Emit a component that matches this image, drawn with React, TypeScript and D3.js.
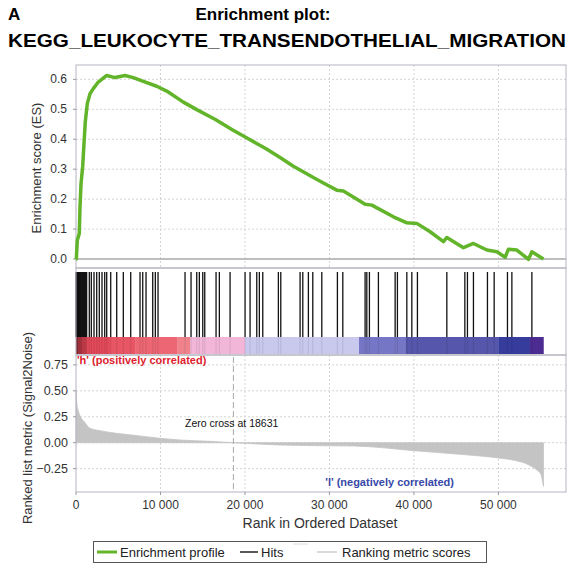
import React, { useRef, useEffect } from 'react';
import * as d3 from 'd3';

// enrichment score curve (rank, ES)
const esRanks = [0, 36, 154, 390, 474, 592, 793, 947, 1101, 1338, 1658, 2049, 2641, 3635, 4618, 5802, 6785, 7969, 9556, 10740, 12706, 14292, 16500, 18500, 20500, 22500, 24156, 25731, 28099, 29283, 30870, 31652, 34221, 35015, 37572, 39159, 40343, 41918, 43493, 43895, 45861, 47045, 48632, 49816, 50799, 51190, 52185, 53558, 53961, 55335];
const esValues = [0, 0.0, 0.063, 0.085, 0.174, 0.25, 0.31, 0.386, 0.458, 0.519, 0.552, 0.569, 0.591, 0.613, 0.606, 0.613, 0.606, 0.593, 0.577, 0.561, 0.524, 0.499, 0.466, 0.432, 0.4, 0.368, 0.339, 0.31, 0.272, 0.254, 0.23, 0.227, 0.183, 0.18, 0.141, 0.121, 0.119, 0.091, 0.058, 0.072, 0.038, 0.052, 0.03, 0.024, 0.006, 0.033, 0.03, -0.001, 0.024, 0];

// hit positions (rank of each gene of the set)
const hits = [20, 60, 110, 160, 220, 280, 340, 400, 470, 540, 610, 690, 770, 850, 930, 1010, 1100, 1180, 1260, 1575, 1812, 2131, 2451, 2759, 3079, 3398, 3635, 4109, 4819, 5601, 6477, 7578, 7898, 8289, 9082, 9390, 9710, 12907, 13617, 14292, 14600, 15003, 15240, 16578, 16969, 18236, 20012, 20604, 21397, 21705, 22108, 23955, 24239, 26524, 26844, 27507, 28028, 29094, 30941, 31580, 34221, 34422, 34730, 35796, 37774, 38046, 39159, 39751, 40414, 43895, 46027, 46335, 47045, 48703, 49497, 51072, 51593, 53961];

// ranked list metric (rank, Signal2Noise)
const metricRanks = [0, 100, 300, 600, 1000, 1658, 2842, 4819, 7578, 9947, 12315, 15868, 18631, 20000, 24000, 30000, 33000, 40000, 45000, 50000, 52000, 53500, 54500, 55000, 55330];
const metricValues = [0.5, 0.38, 0.3, 0.24, 0.2, 0.139, 0.116, 0.09, 0.065, 0.042, 0.026, 0.013, 0, -0.006, -0.022, -0.03, -0.032, -0.077, -0.109, -0.147, -0.172, -0.21, -0.26, -0.3, -0.42];

// heat bar segments under the hits
const barStarts = [0, 300, 700, 1270, 4000, 7000, 12000, 13500, 20000, 33500, 39000, 50000, 53700];
const barEnds = [300, 700, 1270, 4000, 7000, 12000, 13500, 20000, 33500, 39000, 50000, 53700, 55330];
const barColors = ['#a0303a', '#c03a48', '#d84452', '#e34a5a', '#e85666', '#ec6674', '#f0828c', '#f2b6d8', '#c9c9ee', '#7676c6', '#5656ac', '#363c9c', '#4c2c90'];

const esTicks = [0, 0.1, 0.2, 0.3, 0.4, 0.5, 0.6];
const metricTicks = [-0.25, 0, 0.25, 0.5, 0.75];
const rankTicks = [0, 10000, 20000, 30000, 40000, 50000];

const FONT = '"Liberation Sans", Arial, sans-serif';

export default function App() {
  const svgRef = useRef<SVGSVGElement>(null);

  useEffect(() => {
    const svg = d3.select(svgRef.current);
    svg.selectAll('*').remove();
    svg.style('font-family', FONT);

    const left = 76, right = 566;
    const x = d3.scaleLinear().domain([0, 58000]).range([left, right]);
    const yES = d3.scaleLinear().domain([-0.03, 0.648]).range([268, 65]);
    const yM = d3.scaleLinear().domain([-0.475, 0.845]).range([492, 355]);
    const fmtRank = (v: number) => d3.format(',')(v).replace(',', ' ');

    // titles
    svg.append('text').attr('x', 8).attr('y', 20).style('font-size', '17px').style('font-weight', 'bold').text('A');
    svg.append('text').attr('x', 263).attr('y', 20).attr('text-anchor', 'middle')
      .style('font-size', '17px').style('font-weight', 'bold').text('Enrichment plot:');
    svg.append('text').attr('x', 8).attr('y', 47).attr('textLength', 558).attr('lengthAdjust', 'spacingAndGlyphs')
      .style('font-size', '18px').style('font-weight', 'bold').text('KEGG_LEUKOCYTE_TRANSENDOTHELIAL_MIGRATION');

    // ---- ES panel
    const g1 = svg.append('g');
    g1.selectAll('.vg').data(rankTicks.slice(1)).enter().append('line')
      .attr('x1', d => x(d)).attr('x2', d => x(d)).attr('y1', 65).attr('y2', 268)
      .attr('stroke', '#d4d4d4').attr('stroke-dasharray', '2,2');
    g1.selectAll('.hg').data(esTicks.slice(1)).enter().append('line')
      .attr('x1', left).attr('x2', right).attr('y1', d => yES(d)).attr('y2', d => yES(d))
      .attr('stroke', '#d4d4d4').attr('stroke-dasharray', '2,2');
    g1.append('line').attr('x1', left).attr('x2', right).attr('y1', yES(0)).attr('y2', yES(0))
      .attr('stroke', '#a8a8a8').attr('stroke-width', 1.5);
    g1.append('rect').attr('x', left).attr('y', 65).attr('width', right - left).attr('height', 203)
      .attr('fill', 'none').attr('stroke', '#b4b4c0');
    g1.selectAll('.yt').data(esTicks).enter().append('text')
      .attr('x', 67).attr('y', d => yES(d) + 4).attr('text-anchor', 'end')
      .style('font-size', '12px').style('fill', '#333').text(d => d.toFixed(1));
    g1.selectAll('.ytk').data(esTicks).enter().append('line')
      .attr('x1', left - 3).attr('x2', left).attr('y1', d => yES(d)).attr('y2', d => yES(d)).attr('stroke', '#999');
    g1.append('text').attr('transform', `translate(41, 168) rotate(-90)`).attr('text-anchor', 'middle')
      .style('font-size', '13px').style('fill', '#333').text('Enrichment score (ES)');

    const esData = esRanks.map((r, i) => [r, esValues[i]] as [number, number]);
    const line = d3.line<[number, number]>().x(d => x(d[0])).y(d => yES(d[1]));
    g1.append('path').datum(esData).attr('d', line).attr('fill', 'none')
      .attr('stroke', '#62b42a').attr('stroke-width', 3.5).attr('stroke-linejoin', 'round');

    // ---- hits + heat bar panel
    const g2 = svg.append('g');
    g2.selectAll('.seg').data(barStarts).enter().append('rect')
      .attr('x', d => x(d)).attr('width', (d, i) => x(barEnds[i]) - x(d) + 0.3)
      .attr('y', 337).attr('height', 17).attr('fill', (d, i) => barColors[i]);
    g2.selectAll('.hit').data(hits).enter().append('line')
      .attr('x1', d => x(d)).attr('x2', d => x(d)).attr('y1', 272).attr('y2', 337)
      .attr('stroke', '#111').attr('stroke-width', 1.3);
    g2.selectAll('.hs').data(hits).enter().append('line')
      .attr('x1', d => x(d)).attr('x2', d => x(d)).attr('y1', 337).attr('y2', 354)
      .attr('stroke', '#000').attr('stroke-opacity', 0.08).attr('stroke-width', 1.3);
    g2.append('rect').attr('x', left).attr('y', 268).attr('width', right - left).attr('height', 87)
      .attr('fill', 'none').attr('stroke', '#b4b4c0');

    // ---- ranked list metric panel
    const g3 = svg.append('g');
    g3.selectAll('.vg').data(rankTicks.slice(1)).enter().append('line')
      .attr('x1', d => x(d)).attr('x2', d => x(d)).attr('y1', 355).attr('y2', 492)
      .attr('stroke', '#d4d4d4').attr('stroke-dasharray', '2,2');
    g3.selectAll('.hg').data(metricTicks).enter().append('line')
      .attr('x1', left).attr('x2', right).attr('y1', d => yM(d)).attr('y2', d => yM(d))
      .attr('stroke', '#d4d4d4').attr('stroke-dasharray', '2,2');
    const mData = metricRanks.map((r, i) => [r, metricValues[i]] as [number, number]);
    const area = d3.area<[number, number]>().x(d => x(d[0])).y0(yM(0)).y1(d => yM(d[1])).curve(d3.curveMonotoneX);
    g3.append('path').datum(mData).attr('d', area).attr('fill', '#c4c4c4').attr('stroke', '#c4c4c4').attr('stroke-width', 0.8);
    g3.append('line').attr('x1', x(18631)).attr('x2', x(18631)).attr('y1', 357).attr('y2', 490)
      .attr('stroke', '#a8a8a8').attr('stroke-dasharray', '6,3');
    g3.append('rect').attr('x', left).attr('y', 355).attr('width', right - left).attr('height', 137)
      .attr('fill', 'none').attr('stroke', '#b4b4c0');
    g3.selectAll('.yt').data(metricTicks).enter().append('text')
      .attr('x', 68).attr('y', d => yM(d) + 4).attr('text-anchor', 'end')
      .style('font-size', '12.5px').style('fill', '#333').text(d => (d < 0 ? '\u2212' : '') + Math.abs(d).toFixed(2));
    g3.selectAll('.ytk').data(metricTicks).enter().append('line')
      .attr('x1', left - 3).attr('x2', left).attr('y1', d => yM(d)).attr('y2', d => yM(d)).attr('stroke', '#999');
    g3.selectAll('.xt').data(rankTicks).enter().append('text')
      .attr('x', d => x(d)).attr('y', 509).attr('text-anchor', 'middle')
      .style('font-size', '12px').style('fill', '#333').text(d => fmtRank(d));
    g3.selectAll('.xtk').data(rankTicks).enter().append('line')
      .attr('x1', d => x(d)).attr('x2', d => x(d)).attr('y1', 492).attr('y2', 495).attr('stroke', '#999');
    g3.append('text').attr('x', 320).attr('y', 528).attr('text-anchor', 'middle')
      .style('font-size', '14px').style('fill', '#333').text('Rank in Ordered Dataset');
    g3.append('text').attr('transform', `translate(32, 428) rotate(-90)`).attr('text-anchor', 'middle')
      .style('font-size', '13px').style('fill', '#333').text('Ranked list metric (Signal2Noise)');

    g3.append('text').attr('x', 77).attr('y', 364).style('font-size', '11px').style('font-weight', 'bold')
      .style('fill', '#e0222e').text("'h' (positively correlated)");
    g3.append('text').attr('x', 454).attr('y', 486).attr('text-anchor', 'end').style('font-size', '11px').style('font-weight', 'bold')
      .style('fill', '#3848a8').text("'l' (negatively correlated)");
    g3.append('text').attr('x', 185).attr('y', 427).style('font-size', '10.5px').style('fill', '#111')
      .text('Zero cross at 18631');

    // ---- legend
    const lg = svg.append('g');
    lg.append('rect').attr('x', 93.5).attr('y', 541.5).attr('width', 393).attr('height', 21)
      .attr('fill', 'white').attr('stroke', '#555');
    const items = [
      { x1: 97, x2: 117, color: '#62b42a', w: 3, tx: 120, label: 'Enrichment profile' },
      { x1: 240, x2: 258, color: '#222', w: 1.5, tx: 261, label: 'Hits' },
      { x1: 317, x2: 337, color: '#cfcfcf', w: 1.5, tx: 342, label: 'Ranking metric scores' },
    ];
    lg.selectAll('.li').data(items).enter().append('line')
      .attr('x1', d => d.x1).attr('x2', d => d.x2).attr('y1', 552).attr('y2', 552)
      .attr('stroke', d => d.color).attr('stroke-width', d => d.w);
    lg.selectAll('.lt').data(items).enter().append('text')
      .attr('x', d => d.tx).attr('y', 557).style('font-size', '13px').style('fill', '#222').text(d => d.label);
    lg.append('line').attr('x1', 293).attr('x2', 308).attr('y1', 544).attr('y2', 544)
      .attr('stroke', '#dcdcdc').attr('stroke-width', 1);
  }, []);

  return (
    <svg ref={svgRef} width={571} height={573}
      style={{ position: 'absolute', left: 0, top: 0, background: 'white' }} />
  );
}
